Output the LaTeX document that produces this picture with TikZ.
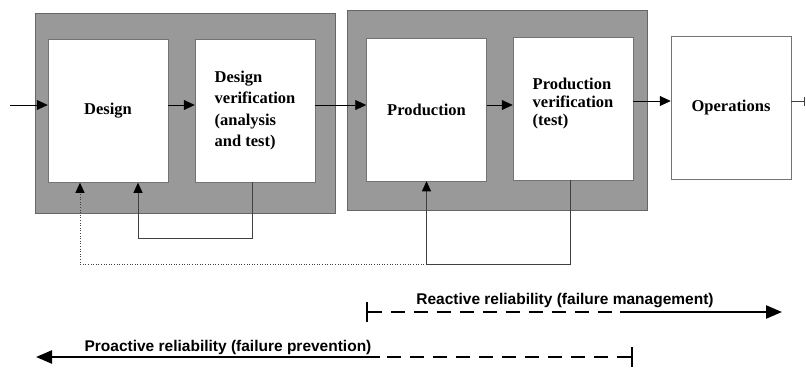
\documentclass[tikz,border=0pt]{standalone}
\usepackage{fontspec}
\setmainfont{Liberation Serif}
\newfontfamily\notefont{Liberation Sans}
\usepackage{tikz}
\usetikzlibrary{arrows.meta}
\tikzstyle{panel} = [draw=black!60, fill=black!40, minimum width=300pt, minimum height=200pt, inner sep=0pt]
\tikzstyle{stage} = [draw=black!55, line width=0.5pt, fill=white, minimum width=120pt, minimum height=143pt, inner sep=0pt, align=left, font=\fontsize{16.5}{21.5}\selectfont\bfseries]
\tikzstyle{flow} = [black, line width=0.6pt, -{Triangle[length=11pt,width=10pt]}]
\tikzstyle{feed} = [black!75, line width=0.6pt]
\tikzstyle{back} = [feed, -{Triangle[length=10pt,width=9pt,fill=black,color=black]}]
\tikzstyle{span} = [line width=2.4pt, dash pattern=on 14pt off 9pt]
\tikzstyle{note} = [font=\notefont\bfseries\fontsize{15.5}{18}\selectfont, inner sep=0pt]

\begin{document}
\begin{tikzpicture}[x=1pt, y=-1pt]
    \useasboundingbox (0,0) rectangle (806,367);
    % shaded phases
    \draw (185,113) node[panel] (P) {};
    \draw (497,110) node[panel] (Q) {};
    % stages
    \draw (108,111)   node[stage] (A) {Design};
    \draw (255,110.5) node[stage] (B) {Design\\ verification\\ (analysis\\ and test)};
    \draw (426.5,109.5) node[stage] (C) {Production};
    \draw (573,108.5) node[stage, text depth=14pt, font=\fontsize{16.5}{18}\selectfont\bfseries] (D) {Production\\ verification\\ (test)};
    \draw (731,108)   node[stage] (E) {Operations};
    % main flow
    \coordinate (row) at (0,105);
    \coordinate (in) at (10,105);
    \coordinate (exit) at (805,101);
    \draw[flow] (in) -- (A.west |- row);
    \draw[flow] (A.east |- row) -- (B.west |- row);
    \draw[flow] (B.east |- row) -- (C.west |- row);
    \draw[flow] (C.east |- row) -- (D.west |- row);
    \draw[flow] (D.east |- exit) -- (E.west |- exit);
    \draw[feed, -{Bar[width=9pt]}] (E.east |- exit) -- (exit);
    % feedback loops
    \draw[back] ([xshift=-3pt]B.south) -- ++(0,56) -| ([xshift=30pt]A.south);
    \coordinate (fb) at (0,264);
    \draw[feed] ([xshift=-3pt]D.south) |- (C.south |- fb);
    \draw[back] (C.south |- fb) -- (C.south);
    \draw[back, dotted] (C.south |- fb) -| ([xshift=-28pt]A.south);
    % reliability spans
    \coordinate (r0) at (366,312);
    \coordinate (r1) at (620,312);
    \coordinate (r2) at (782,312);
    \draw[span, {Bar[width=20pt]}-] (r0) -- (r1);
    \draw[line width=2.4pt, -{Triangle[length=16pt,width=13pt]}] (r1) -- (r2);
    \node[note] (R) at (565,301) {Reactive reliability (failure management)};
    \coordinate (p0) at (633,357);
    \coordinate (p1) at (380,357);
    \coordinate (p2) at (36,357);
    \draw[span, {Bar[width=20pt]}-] (p0) -- (p1);
    \draw[line width=2.4pt, -{Triangle[length=16pt,width=13pt]}] (p1) -- (p2);
    \node[note] (V) at (228,347) {Proactive reliability (failure prevention)};
\end{tikzpicture}
\end{document}
